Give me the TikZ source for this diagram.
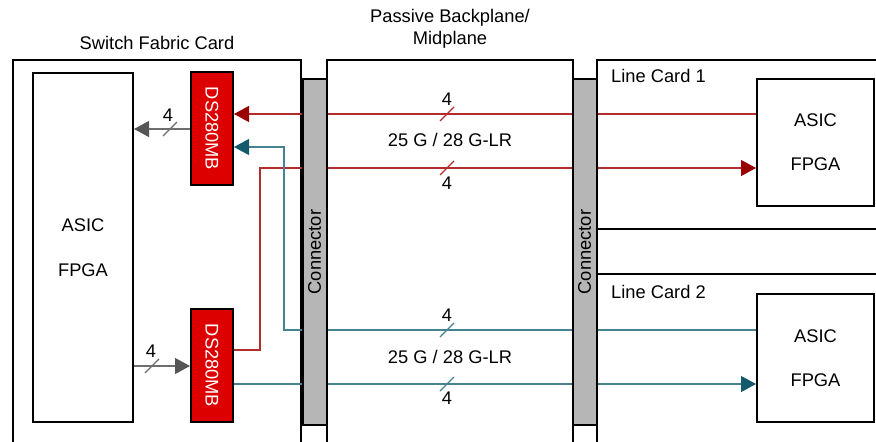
\documentclass[tikz,border=0pt]{standalone}
\usepackage{fontspec}
\setmainfont{Liberation Sans}
\usetikzlibrary{arrows.meta}

\definecolor{dsred}{RGB}{221,0,0}
\definecolor{sigred}{RGB}{180,45,45}
\definecolor{tipred}{RGB}{153,0,0}
\definecolor{sigteal}{RGB}{70,130,145}
\definecolor{tipteal}{RGB}{19,90,108}
\definecolor{siggrey}{RGB}{110,110,110}
\definecolor{tipgrey}{RGB}{85,85,85}
\definecolor{connfill}{RGB}{182,182,182}

\begin{document}
\begin{tikzpicture}[x=1pt,y=-1pt,
  every node/.style={font=\fontsize{18.3}{22}\selectfont, inner sep=0pt},
  card/.style={line width=2pt},
  chip/.style={draw, line width=2pt, align=center},
  dsbox/.style={chip, fill=dsred, text=white, minimum width=42pt, minimum height=113pt},
  conn/.style={draw, line width=2pt, fill=connfill, minimum width=24pt, minimum height=346pt},
  sigR/.style={line width=1.2pt, draw=sigred},
  sigT/.style={line width=1.2pt, draw=sigteal},
  sigG/.style={line width=1.2pt, draw=siggrey},
  sigtip/.style={-{Triangle[length=15pt,width=16pt,color=#1]}}]
  \useasboundingbox (0,0) rectangle (876,442);
  \clip (0,0) rectangle (876,442);

  % card outlines
  \draw[card] (13,450) -- (13,60) -- (301,60) -- (301,450);
  \draw[card] (327,450) -- (327,60) -- (573,60) -- (573,450);
  \draw[card] (880,60) -- (597,60) -- (597,450);
  \draw[card] (597,228.5) -- (880,228.5) (597,274) -- (880,274);

  \node (sfclabel) at (157,43) {Switch Fabric Card};
  \node[align=center] (bplabel) at (450,29) {Passive Backplane/\\Midplane};
  \node[anchor=west] (lc1label) at (611,76) {Line Card 1};
  \node[anchor=west] (lc2label) at (611,292) {Line Card 2};

  \node[chip, minimum width=100pt, minimum height=349pt] (sfasic) at (83,247.5) {ASIC\\[23pt]FPGA};
  \node[dsbox] (dstop) at (212,128.5) {\rotatebox{-90}{DS280MB}};
  \node[dsbox] (dsbot) at (212,365.5) {\rotatebox{-90}{DS280MB}};
  \node[chip, minimum width=117pt, minimum height=127pt] (lc1asic) at (815.5,142.5) {ASIC\\[22pt]FPGA};
  \node[chip, minimum width=117pt, minimum height=128pt] (lc2asic) at (815.5,358) {ASIC\\[22pt]FPGA};

  \coordinate (redA) at (0,114);
  \coordinate (redB) at (260,168);
  \coordinate (tealA) at (284,147);
  \coordinate (tealB) at (0,384);
  \coordinate (greyA) at (0,129);
  \coordinate (greyB) at (0,366);

  \draw[sigR, sigtip=tipred] (lc1asic.west |- redA) -- (dstop.east |- redA);
  \draw[sigR, sigtip=tipred] (dsbot.east |- 0,350) -| (redB) -- (lc1asic.west |- redB);
  \draw[sigT, sigtip=tipteal] (lc2asic.west |- 0,330) -| (tealA) -- (dstop.east |- tealA);
  \draw[sigT, sigtip=tipteal] (dsbot.east |- tealB) -- (lc2asic.west |- tealB);
  \draw[sigG, sigtip=tipgrey] (dstop.west |- greyA) -- (sfasic.east |- greyA);
  \draw[sigG, sigtip=tipgrey] (sfasic.east |- greyB) -- (dsbot.west |- greyB);

  % bus width marks
  \foreach \bx/\by/\bc in {447/114/sigred, 447/168/sigred, 447/330/sigteal, 447/384/sigteal, 170/129/siggrey, 152/366/siggrey}
    \draw[line width=1.2pt, \bc] (\bx,\by) ++(-7,7) -- ++(14,-14);
  \node (wA) at (447,99) {4};
  \node (wB) at (447,183) {4};
  \node (wC) at (447,315) {4};
  \node (wD) at (447,398) {4};
  \node (wE) at (168,115) {4};
  \node (wF) at (151,351) {4};
  \node (rate1) at (450,140) {25 G / 28 G-LR};
  \node (rate2) at (450,357) {25 G / 28 G-LR};

  \node[conn] (connL) at (314.5,252) {\rotatebox{90}{Connector}};
  \node[conn] (connR) at (584.5,252) {\rotatebox{90}{Connector}};
\end{tikzpicture}
\end{document}
